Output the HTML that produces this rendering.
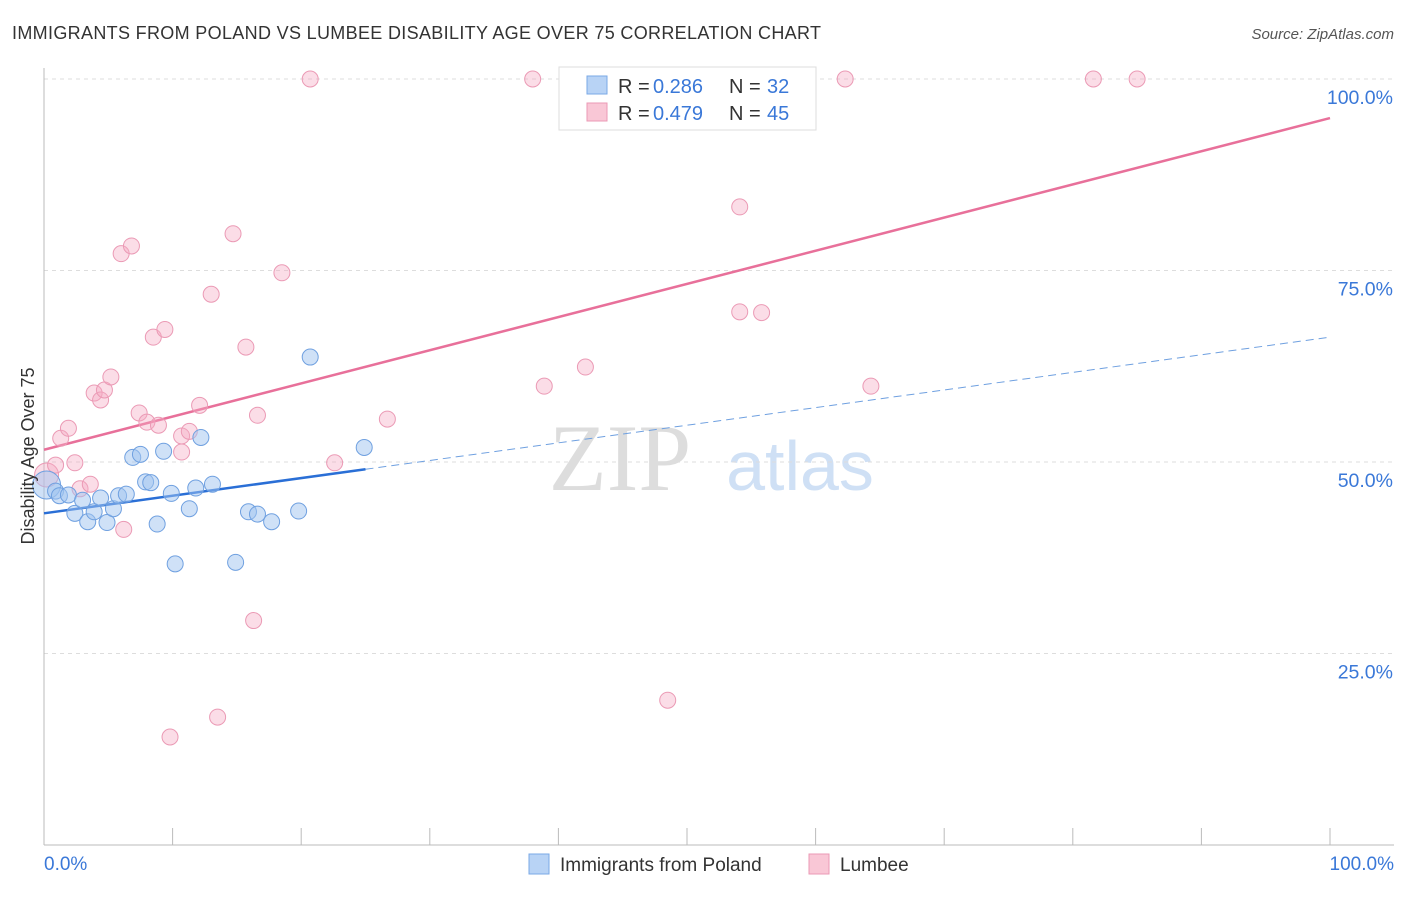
<!DOCTYPE html>
<html><head><meta charset="utf-8"><style>
body{margin:0;background:#fff;font-family:"Liberation Sans",sans-serif;}
</style></head><body>
<svg width="1406" height="892" xmlns="http://www.w3.org/2000/svg" style="font-family:'Liberation Sans',sans-serif">
<text x="12" y="39" font-size="18" fill="#333" textLength="809">IMMIGRANTS FROM POLAND VS LUMBEE DISABILITY AGE OVER 75 CORRELATION CHART</text>
<text x="1394" y="39" font-size="15" fill="#555" text-anchor="end" font-style="italic">Source: ZipAtlas.com</text>
<text x="620" y="490" font-size="95" fill="#ddd" font-family="Liberation Serif,serif" text-anchor="middle">ZIP</text>
<text x="800" y="490" font-size="70" fill="#cfe0f5" text-anchor="middle">atlas</text>
<g id="grid"></g><g id="axes"></g><g id="lines"></g><g id="pts"></g>
<text x="34" y="456" font-size="18" fill="#333" text-anchor="middle" transform="rotate(-90 34 456)">Disability Age Over 75</text>
<text x="44" y="870" font-size="19" fill="#3a78d8">0.0%</text>
<text x="1394" y="870" font-size="19" fill="#3a78d8" text-anchor="end">100.0%</text>
<g>
<rect x="559" y="67" width="257" height="63" fill="#fff" stroke="#ddd"/>
<rect x="587" y="76" width="20" height="18" fill="#b8d3f5" stroke="#7aa8e6"/>
<rect x="587" y="103" width="20" height="18" fill="#f9c7d6" stroke="#eb9ab5"/>
<text x="618" y="93" font-size="20" fill="#333">R =</text><text x="653" y="93" font-size="20" fill="#3a78d8">0.286</text>
<text x="729" y="93" font-size="20" fill="#333">N =</text><text x="767" y="93" font-size="20" fill="#3a78d8">32</text>
<text x="618" y="120" font-size="20" fill="#333">R =</text><text x="653" y="120" font-size="20" fill="#3a78d8">0.479</text>
<text x="729" y="120" font-size="20" fill="#333">N =</text><text x="767" y="120" font-size="20" fill="#3a78d8">45</text>
</g>
<g>
<rect x="529" y="854" width="20" height="20" fill="#b8d3f5" stroke="#7aa8e6"/>
<text x="560" y="871" font-size="19" fill="#333">Immigrants from Poland</text>
<rect x="809" y="854" width="20" height="20" fill="#f9c7d6" stroke="#eb9ab5"/>
<text x="840" y="871" font-size="19" fill="#333">Lumbee</text>
</g>
</svg>
<script>
const yTicks=[25,50,75,100];
const yTickLabels=["25.0%","50.0%","75.0%","100.0%"];
const blueX=[0.2,0.9,1.2,1.9,2.4,3.0,3.4,3.9,4.4,4.9,5.4,5.8,6.4,6.9,7.5,7.9,8.3,8.8,9.3,9.9,10.2,11.3,11.8,12.2,13.1,14.9,15.9,16.6,17.7,19.8,20.7,24.9];
const blueY=[47,46.2,45.6,45.7,43.3,45.0,42.2,43.5,45.3,42.1,43.9,45.6,45.8,50.6,51.0,47.4,47.3,41.9,51.4,45.9,36.7,43.9,46.6,53.2,47.1,36.9,43.5,43.2,42.2,43.6,63.7,51.9];
const pinkX=[0.2,0.9,1.3,1.9,2.4,2.8,3.6,3.9,4.4,4.7,5.2,6.0,6.2,6.8,7.4,8.0,8.5,8.9,9.4,9.8,10.7,10.7,11.3,12.1,13.0,13.5,14.7,15.7,16.3,16.6,18.5,20.7,22.6,26.7,38.0,38.9,42.1,48.5,54.1,54.1,55.8,62.3,64.3,81.6,85.0];
const pinkY=[48.3,49.6,53.1,54.4,49.9,46.5,47.1,59.0,58.1,59.4,61.1,77.2,41.2,78.2,56.4,55.2,66.3,54.8,67.3,14.1,53.4,51.3,54.0,57.4,71.9,16.7,79.8,65.0,29.3,56.1,74.7,100,49.9,55.6,100,59.9,62.4,18.9,83.3,69.6,69.5,100,59.9,100,100];
const blueFit=[43.3,66.3];const pinkFit=[51.6,94.9];
const X=v=>44+v*12.86, Y=v=>845-v*7.66;
const NS="http://www.w3.org/2000/svg";
function mk(t,a,p){const e=document.createElementNS(NS,t);for(const k in a)e.setAttribute(k,a[k]);document.getElementById(p).appendChild(e);return e;}
yTicks.forEach((t,i)=>{
const g=mk('line',{x1:44,x2:1394,y1:Y(t),y2:Y(t),stroke:'#ddd','stroke-dasharray':'4 4'},'grid');


const l=mk('text',{x:1393,y:Y(t)+25,'font-size':19.5,fill:'#3a78d8','text-anchor':'end'},'grid');l.textContent=yTickLabels[i];


});
mk('line',{x1:44,x2:44,y1:68,y2:845,stroke:'#bbb'},'axes');
mk('line',{x1:44,x2:1394,y1:845,y2:845,stroke:'#bbb'},'axes');
for(let i=0;i<=10;i++){const t=mk('line',{x1:X(i*10),x2:X(i*10),y1:828,y2:845,stroke:'#bbb'},'axes');

}
const bl=mk('line',{x1:X(0),y1:Y(blueFit[0]),x2:X(25),y2:Y(blueFit[0]+(blueFit[1]-blueFit[0])*0.25),stroke:'#2a6fd6','stroke-width':2.5},'lines');


const bd=mk('line',{x1:X(25),y1:Y(blueFit[0]+(blueFit[1]-blueFit[0])*0.25),x2:X(100),y2:Y(blueFit[1]),stroke:'#6fa0e0','stroke-width':1,'stroke-dasharray':'8 5'},'lines');


const pl=mk('line',{x1:X(0),y1:Y(pinkFit[0]),x2:X(100),y2:Y(pinkFit[1]),stroke:'#e8709a','stroke-width':2.5},'lines');


pinkX.forEach((x,i)=>{const c=mk('circle',{cx:X(x),cy:Y(pinkY[i]),r:i==0?12:8,fill:'rgba(245,170,195,0.4)',stroke:'#eb9ab5','stroke-width':1},'pts');

});
blueX.forEach((x,i)=>{const c=mk('circle',{cx:X(x),cy:Y(blueY[i]),r:i==0?14:8,fill:'rgba(160,195,240,0.5)',stroke:'#6fa0e0','stroke-width':1},'pts');

});
</script>
</body></html>
